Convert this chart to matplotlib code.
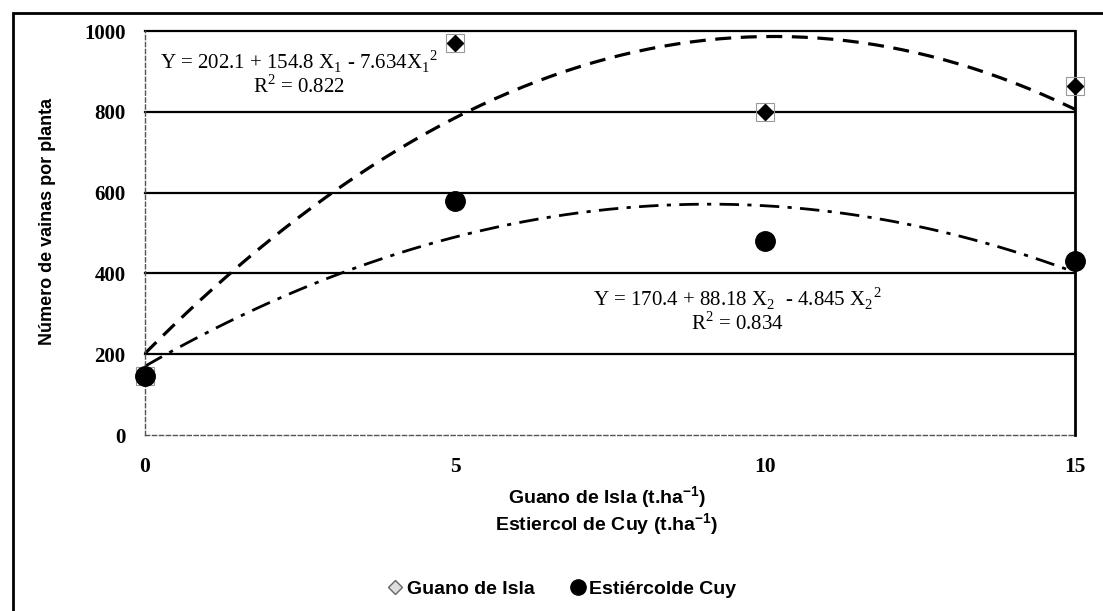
import matplotlib
matplotlib.use("Agg")
import matplotlib.pyplot as plt
from matplotlib.patches import Rectangle
from matplotlib.lines import Line2D
import numpy as np

# dosis (t/ha) y valores
dosis = [0, 5, 10, 15]
guano = [145, 970, 800, 865]
cuy = [145, 580, 480, 432]

# coeficientes de las curvas de tendencia (c0, c1, c2)
coef_guano = [202.1, 154.8, -7.634]
coef_cuy = [170.4, 88.18, -4.845]
eq_guano = "Y = 202.1 + 154.8 X$_1$ - 7.634X$_1$$^2$\nR$^2$ = 0.822"
eq_cuy = "Y = 170.4 + 88.18 X$_2$  - 4.845 X$_2$$^2$\nR$^2$ = 0.834"

yticks = [0, 200, 400, 600, 800, 1000]
xticks = [0, 5, 10, 15]

serif = "Liberation Serif"
sans = "Liberation Sans"
plt.rcParams["mathtext.fontset"] = "custom"
plt.rcParams["mathtext.rm"] = serif
plt.rcParams["mathtext.bf"] = sans + ":bold"

fig = plt.figure(figsize=(11.03, 6.11), dpi=100)
ax = fig.add_axes([0.1315, 0.288, 0.8431, 0.661])

# marco exterior
fig.patches.append(Rectangle((13 / 1103, -0.05), 1.2, 1 - 13 / 611 + 0.05,
                             transform=fig.transFigure, fill=False,
                             edgecolor="black", linewidth=2))

for y in yticks[1:]:
    ax.axhline(y, color="black", linewidth=1.6, zorder=1, clip_on=False)

xs = np.linspace(0, 15, 200)
ax.plot(xs, np.polyval(coef_guano[::-1], xs), color="black", linestyle=(0, (5, 3)),
        linewidth=2.3, zorder=2, clip_on=False)
ax.plot(xs, np.polyval(coef_cuy[::-1], xs), color="black", linestyle=(0, (7, 3, 1.5, 3)),
        linewidth=2.0, zorder=2, clip_on=False)

ax.plot(dosis, guano, linestyle="none", marker="s", markersize=13, markerfacecolor="none",
        markeredgecolor="#999999", markeredgewidth=0.8, zorder=3, clip_on=False)
ax.plot(dosis, guano, linestyle="none", marker="D", markersize=8, color="black",
        zorder=4, clip_on=False)
ax.plot(dosis, cuy, linestyle="none", marker="o", markersize=14, color="black",
        zorder=5, clip_on=False)

ax.set_xlim(0, 15)
ax.set_ylim(0, 1000)
ax.set_xticks(xticks)
ax.set_yticks(yticks)
ax.tick_params(axis="y", length=0, pad=14)
ax.tick_params(axis="x", length=0, pad=16)
for lab in ax.get_yticklabels():
    lab.set_fontfamily(serif)
    lab.set_fontweight("bold")
    lab.set_fontsize(15)
for lab in ax.get_xticklabels():
    lab.set_fontfamily(serif)
    lab.set_fontweight("bold")
    lab.set_fontsize(15.5)

for side in ["left", "bottom"]:
    ax.spines[side].set_linestyle((0, (3, 2)))
    ax.spines[side].set_color("#555555")
    ax.spines[side].set_linewidth(1.0)
ax.spines["top"].set_visible(False)
ax.spines["right"].set_linewidth(2)

ax.set_ylabel("Número de vainas por planta", fontfamily=sans, fontweight="bold",
              fontsize=13)
ax.yaxis.set_label_coords(-0.096, 0.53)

fig.text(607 / 1103, 1 - 511 / 611,
         "Guano de Isla (t.ha$^{\\mathbf{-1}}$)\nEstiercol de Cuy (t.ha$^{\\mathbf{-1}}$)",
         ha="center", va="center", multialignment="center", linespacing=1.05,
         fontfamily=sans, fontweight="bold", fontsize=14)

ax.text(2.48, 895, eq_guano, ha="center", va="center", multialignment="center",
        linespacing=1.0, fontfamily=serif, fontsize=15)
ax.text(9.55, 308, eq_cuy, ha="center", va="center", multialignment="center",
        linespacing=1.0, fontfamily=serif, fontsize=15)

handles = [Line2D([], [], linestyle="none", marker="D", markersize=7,
                  markerfacecolor="#dddddd", markeredgecolor="#666666", markeredgewidth=1),
           Line2D([], [], linestyle="none", marker="o", markersize=11, color="black")]
fig.legend(handles, ["Guano de Isla", "Estiércolde Cuy"], loc="center",
           bbox_to_anchor=(560 / 1103, 1 - 589 / 611), ncol=2, frameon=False,
           handletextpad=0.0, columnspacing=1.6, handlelength=1.2,
           prop={"family": sans, "weight": "bold", "size": 14})

fig.savefig("out.png", dpi=100)
